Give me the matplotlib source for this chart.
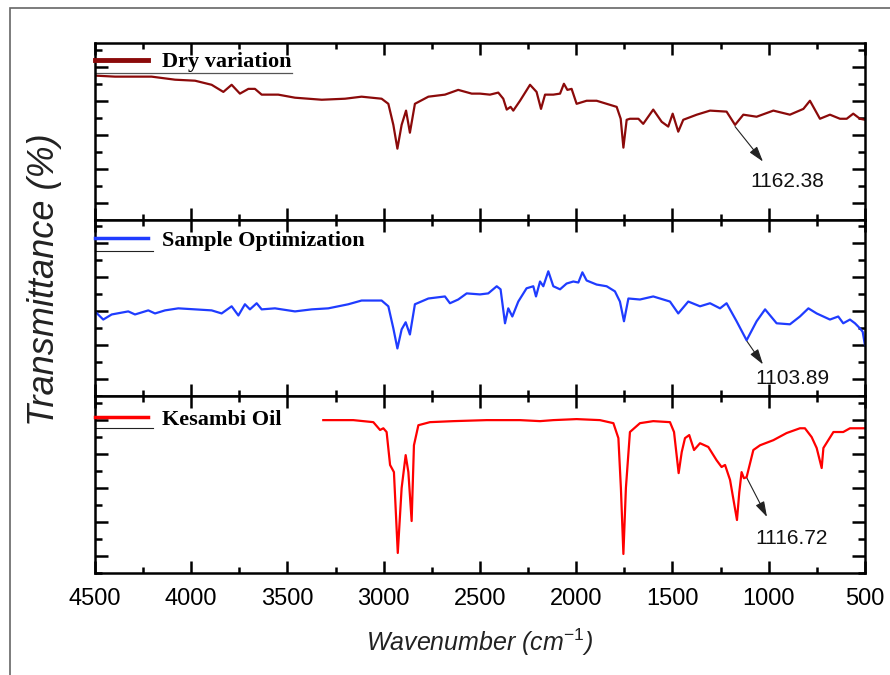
import matplotlib
matplotlib.use("Agg")
import matplotlib.pyplot as plt
from matplotlib.ticker import MultipleLocator
from matplotlib.patches import Rectangle

# FTIR spectra (wavenumber cm-1, transmittance, arbitrary offset per panel)
dry_wn = [4500, 4396, 4206, 4084, 3980, 3894, 3833, 3790, 3747, 3703, 3669, 3634, 3548,
          3461, 3322, 3201, 3115, 3011, 2976, 2950, 2929, 2907, 2884, 2864, 2838, 2768,
          2682, 2613, 2543, 2500, 2448, 2405, 2379, 2361, 2341, 2327, 2292, 2240, 2206,
          2183, 2162, 2119, 2084, 2064, 2046, 2024, 1998, 1946, 1894, 1842, 1790, 1769,
          1755, 1738, 1721, 1677, 1652, 1600, 1556, 1522, 1499, 1470, 1444, 1374, 1305,
          1219, 1175, 1132, 1063, 976, 890, 820, 786, 734, 682, 630, 595, 561, 526, 500]
dry_t = [37.4, 37.1, 37.1, 36.2, 35.9, 34.7, 32.6, 34.7, 32.1, 33.5, 33.5, 31.8, 31.8,
         30.9, 30.3, 30.6, 31.2, 30.6, 29.1, 22.9, 15.9, 22.9, 27.1, 20.6, 29.1, 31.2,
         31.8, 33.2, 32.1, 32.1, 31.8, 32.4, 30.6, 27.4, 28.2, 27.1, 30.0, 34.7, 32.6,
         27.6, 31.8, 31.8, 32.1, 35.0, 33.2, 33.5, 29.1, 30.0, 30.0, 29.1, 28.2, 24.7,
         16.2, 24.4, 24.7, 24.7, 23.2, 27.4, 23.8, 22.4, 26.2, 20.9, 24.4, 25.9, 27.1,
         26.8, 22.9, 25.9, 25.3, 27.1, 25.9, 27.6, 30.0, 24.7, 25.9, 24.7, 24.7, 26.2, 24.7, 24.4]

opt_wn = [4500, 4457, 4413, 4327, 4292, 4223, 4188, 4136, 4067, 3980, 3894, 3842, 3790,
          3755, 3721, 3695, 3660, 3634, 3565, 3461, 3374, 3288, 3184, 3115, 3011, 2976,
          2950, 2929, 2907, 2886, 2864, 2838, 2768, 2682, 2656, 2613, 2569, 2500, 2457,
          2413, 2393, 2370, 2353, 2332, 2301, 2258, 2223, 2209, 2188, 2171, 2145, 2119,
          2084, 2050, 2015, 1989, 1968, 1946, 1894, 1842, 1799, 1773, 1752, 1729, 1669,
          1600, 1513, 1470, 1418, 1357, 1305, 1253, 1219, 1167, 1115, 1063, 1019, 959,
          890, 838, 794, 751, 682, 639, 613, 578, 552, 526, 512, 500]
opt_t = [20.0, 17.6, 19.1, 20.0, 19.1, 20.3, 19.4, 20.3, 20.9, 20.6, 20.3, 19.4, 21.5,
         18.8, 22.1, 20.6, 22.4, 20.6, 20.9, 20.0, 20.6, 20.9, 22.1, 23.2, 23.2, 21.5,
         15.0, 9.1, 14.7, 16.8, 13.2, 22.1, 23.8, 24.4, 22.4, 23.5, 25.3, 25.0, 25.3,
         27.4, 26.5, 16.5, 20.9, 18.5, 22.9, 26.8, 27.4, 24.4, 28.8, 27.4, 31.8, 27.4,
         26.5, 28.2, 28.8, 28.5, 31.5, 29.1, 27.9, 27.4, 25.9, 22.9, 17.1, 23.8, 23.5,
         24.4, 22.9, 19.4, 22.9, 21.5, 22.4, 20.9, 22.4, 17.1, 11.5, 17.1, 20.6, 16.5,
         16.2, 18.5, 20.9, 19.4, 17.6, 18.5, 16.5, 17.6, 16.5, 15.0, 14.0, 10.0]

oil_wn = [3314, 3158, 3054, 3019, 3002, 2985, 2967, 2947, 2927, 2907, 2886, 2872, 2855,
          2843, 2820, 2760, 2638, 2465, 2292, 2188, 2119, 1998, 1877, 1807, 1781, 1768,
          1755, 1742, 1721, 1669, 1600, 1513, 1492, 1468, 1452, 1435, 1413, 1388, 1357,
          1314, 1271, 1245, 1227, 1201, 1165, 1153, 1141, 1129, 1115, 1080, 1045, 976,
          907, 838, 812, 777, 751, 725, 716, 664, 613, 578, 526, 500]
oil_t = [40.0, 40.0, 39.4, 37.1, 37.6, 36.5, 26.8, 24.7, 0.9, 20.0, 29.7, 24.7, 10.3,
         32.6, 38.5, 39.4, 39.7, 40.0, 40.0, 39.7, 40.0, 40.3, 40.0, 39.1, 34.7, 20.0,
         0.6, 20.0, 36.5, 39.1, 39.7, 39.4, 36.5, 24.4, 30.6, 34.7, 35.6, 31.2, 33.2,
         32.1, 28.2, 26.2, 26.8, 22.4, 10.6, 18.8, 24.7, 22.9, 23.2, 31.2, 32.6, 34.1,
         36.2, 37.6, 37.6, 35.0, 31.8, 25.9, 31.8, 36.5, 36.5, 37.6, 37.6, 37.6]

labels = ["Dry variation", "Sample Optimization", "Kesambi Oil"]
colors = ["#8b0a0a", "#1f3cff", "#ff0000"]
peak_text = ["1162.38", "1103.89", "1116.72"]
# (curve point, arrow head, text position)
arrow_from = [(1175, 22.4), (1113, 11.2), (1113, 22.9)]
arrow_to = [(1030, 12.1), (1030, 4.4), (1009, 11.5)]
text_at = [(905, 6.2), (879, 0.3), (879, 5.3)]

series = [(dry_wn, dry_t), (opt_wn, opt_t), (oil_wn, oil_t)]

sans = "Liberation Sans"
serif = "Liberation Serif"
plt.rcParams["mathtext.fontset"] = "custom"
plt.rcParams["mathtext.rm"] = sans
plt.rcParams["mathtext.it"] = sans + ":italic"

fig, axes = plt.subplots(3, 1, figsize=(8.9, 6.75), dpi=100, sharex=True)
fig.subplots_adjust(left=0.1067, right=0.9719, bottom=0.1511, top=0.9363, hspace=0)

leg_y = [0.95, 0.94, 0.925]

for i, ax in enumerate(axes):
    wn, t = series[i]
    ax.plot(wn, t, color=colors[i], lw=1.6, label=labels[i])
    ax.set_xlim(4500, 500)
    ax.set_ylim(-5, 47)
    ax.xaxis.set_major_locator(MultipleLocator(500))
    ax.xaxis.set_minor_locator(MultipleLocator(250))
    ax.yaxis.set_major_locator(MultipleLocator(10))
    ax.yaxis.set_minor_locator(MultipleLocator(5))
    ax.tick_params(which="both", direction="in", top=True, right=True, width=1.8)
    ax.tick_params(axis="x", which="major", length=8.5)
    ax.tick_params(axis="x", which="minor", length=4)
    ax.tick_params(axis="y", which="major", length=9.5)
    ax.tick_params(axis="y", which="minor", length=5)
    ax.tick_params(axis="y", labelleft=False)
    for sp in ax.spines.values():
        sp.set_linewidth(1.8)

    leg = ax.legend(loc="upper left", bbox_to_anchor=(0, leg_y[i]),
                    frameon=False, borderpad=0, borderaxespad=0, handlelength=2.4,
                    handletextpad=0.62, prop={"family": serif, "weight": "bold", "size": 16})
    leg.get_lines()[0].set_linewidth(3.5 if i == 0 else 2.5)

    # thin line left under each legend entry
    if i == 0:
        ax.plot([0, 0.256], [0.83, 0.83], transform=ax.transAxes, color="#555555", lw=0.9)
    else:
        ax.plot([0, 0.075], [0.82, 0.82], transform=ax.transAxes, color="#222222", lw=0.8)

    ax.annotate("", xy=arrow_to[i], xytext=arrow_from[i],
                arrowprops=dict(arrowstyle="-|>,head_length=0.72,head_width=0.22",
                                color="#222222", lw=0.8, mutation_scale=13,
                                shrinkA=0, shrinkB=0))
    ax.text(text_at[i][0], text_at[i][1], peak_text[i], ha="center", va="center",
            fontsize=15, family=sans, color="#111111")

axes[-1].tick_params(axis="x", labelsize=17, pad=11)
for lab in axes[-1].get_xticklabels():
    lab.set_family(sans)
axes[-1].set_xlabel("Wavenumber (cm$^{-1}$)", fontsize=18, style="italic", family=sans,
                    labelpad=12, color="#222222")

fig.text(45 / 890, 1 - 280 / 675, "Transmittance (%)", rotation=90, ha="center", va="center",
         fontsize=26, style="italic", family=sans, color="#222222")

# outer frame around the whole picture
fig.add_artist(Rectangle((10 / 890, -0.05), 1.2, 1 - 8 / 675 + 0.05, transform=fig.transFigure,
                         fill=False, edgecolor="#666666", lw=1.2))

fig.savefig("out.png", dpi=100)
